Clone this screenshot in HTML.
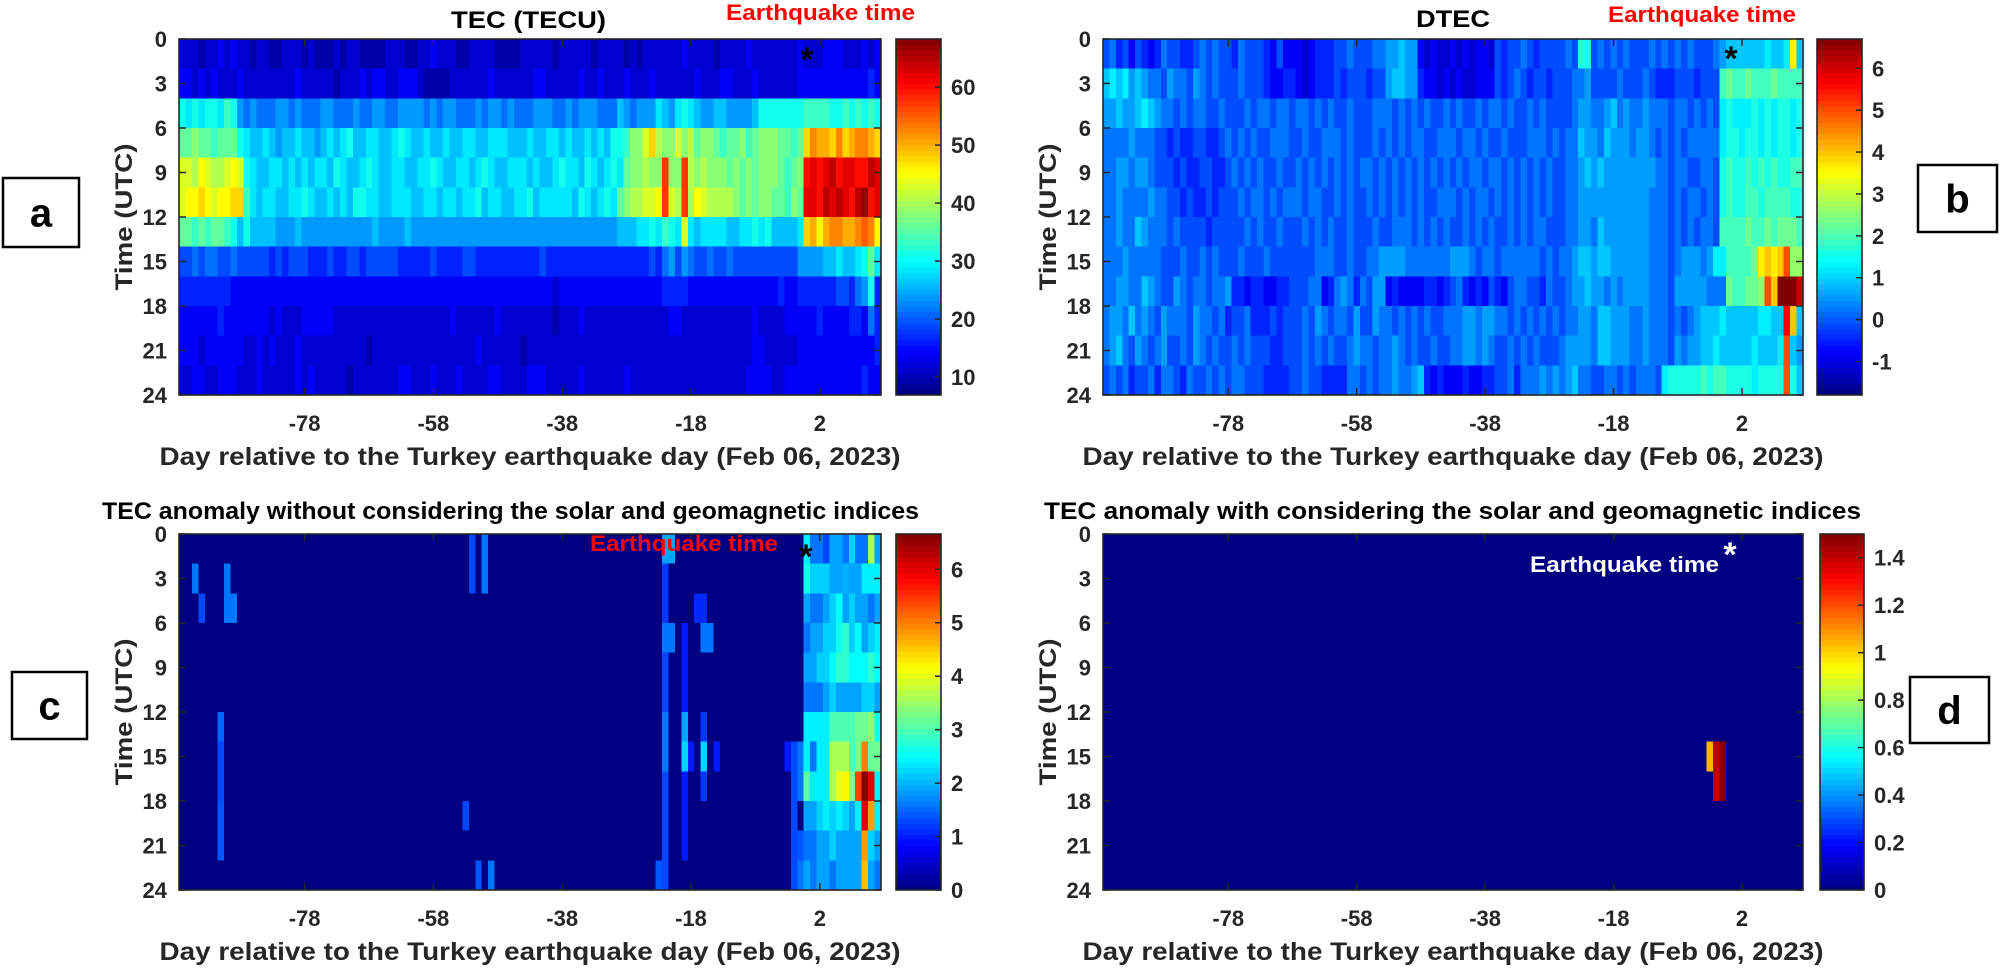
<!DOCTYPE html>
<html><head><meta charset="utf-8"><title>TEC heatmaps</title>
<style>
html,body{margin:0;padding:0;background:#fff;}
svg{display:block;}
text{font-family:"Liberation Sans Narrow","Liberation Sans",sans-serif;font-weight:bold;}
</style></head>
<body>
<svg id="fig" xmlns="http://www.w3.org/2000/svg" width="2001" height="972" viewBox="0 0 2001 972"></svg>
<script>
// ---------- data ----------
const dayFirst = -97;             // first day column
const dayCount = 109;             // days -97 .. 11
const hourBins = [0,2,4,6,8,10,12,14,16,18,20,22];
const xTickDays = [-78,-58,-38,-18,2];
const yTickHours = [0,3,6,9,12,15,18,21,24];
const tecTicks = [10,20,30,40,50,60];
const dtecTicks = [-1,0,1,2,3,4,5,6];
const anomTicks = [0,1,2,3,4,5,6];
const anom2Ticks = [0,0.2,0.4,0.6,0.8,1,1.2,1.4];

// TEC (TECU): letter a..z -> 7 + 2.4*index
const tecRows = [
"cccbccdcdc cbccbbcccb cbbbcbccbb bbcccbbccd cccbbccccb bbbcccccbc ccccbccccb cbccccccdc cccbccccdc ccccccdccc dddcccdcd",
"ddcdcdcccd ccccccccdc ccccbcccdc ddccdddcbb bbccccccdc cccccddccc ccdccdcccd cccdcccccc dcccddcccd ccccccdddd ddddddded",
"kjkjkkjlkh ghggghhghg gghhggghgg hhgghhhhgh ghhggghghh ghggghhhgg hghhhgggih ghhhjihjkj ihhiihhhhi kkkkkkklll lkklklklk",
"mmnmmlmmmk jiijihiiji ihijijkiij jiijkjiiji ijiijjiijj jiiijiijji jiijijikkl nnpronnpno mnnmlmmnlm nnnmmlmrts srtrsttsr",
"ppoqpoopqp kjiijjijij ijjikjiijk jiijjiijjk jiijjijkji ijjjijiijk jjikjijkjm nnonnvnnvo nonnnmnmnm nnnmlmnwxw xywxxwwyx",
"pqqrqpqqrr ljijjiijjk jiijijikkj jiijjjiijj ijjijjkijj iijjkijjjj jikjijkjmn ooppqvpovo qpoooonmnm nnmmlnmxxw yxyxwyzwx",
"mmlmlmmlki kiiiihhhih hhhhhhhhhh ihhhhihhhh hhhhhhhhhh hhhhhhhhhh hhhhhhhhii ijjkjlkjpj ijjjjiijjk jkiiiijrsq sttsstutq",
"ffgfggffgf ffffefefff eeefeeffef ffffeeeeef eeeeffeeee eeeeeefeee eeeeeeeeee eeefeghfhg ffgffgffff ffffffhhhh iijiijkmj",
"eeeeeeeedd dddddddddd dddddddddd dddddddddd dddddddddd ddddddddcd dddddddddd dddddeeeed dddddddddd dddeddeeee eeffeghke",
"ddddddeddd ddddcdcccd ddddcccccc cccccccccc ccdccccccd ccccccccbc ccdccccccc ccccccddcc cccccccccd ccccddddde ddddeedge",
"dddcdddddd ccdcdcccdc cccccccccb cccccccccc ccccccdccc cccbcccccc cccccccccc cccccccccc cccccccccd dcccccdddd dddddddde",
"ccddccdddc ccdcccccdc dcccccbccc ccccddcccd cccdccccdd ccccdddccc ccdccccccd cccccccccc ccccccccdd ddccdddddd ddddddedd"
];
// DTEC: letter a..z -> -1.8 + 0.34*index
const dtecRows = [
"fgefdfedeg ffeefgfgff egfffedfdd dcdeeeffgf ffgghhihhd cdccdcdcdd cfeffgfeff ffgfkkfgfg fgfffgfgfg fgfffghiii iiijiijqi",
"ijijhihggf hggfhgfgff fgfffeddee dcdeeefeff feffhiihhe ddcdcdccdd dfefgfeffe fffgghffff gfffgfeeef ffeffflmll mlllmllll",
"hhihhijihg gfgfggffgf ffgfggfggf ggfgfgffgf ffgggfgfgf gffgfgffgf ggfgffgfgf fffghhgghi ghgghgggfg gfgfgfjkjj jkjkjkkjk",
"gggghgggff efeeffeefg fgfgffgggf fgffgggfgf ffgfgfgfgg ffgggfggfg ffgfffgggf gfggihhgih hhghhgfgfg fgggggjkkj kkjkjkkjk",
"gghhghhgff fefeeffeef gfgfgffgff gfgfgfgfgf ggfgfgfgfg fgfgfgfggf ggfgfgfgfg ffgghihihh hhhhhhggfg gffggfklkk lklklkkll",
"gghgggghgg ffefeefeff fgfggfgfgg gfggffgfgf fgfgfgfgfg ffgggfgfgg fgfgfgfgfg ffgghhhhhh hhhhhgggfg fggfgfklkk llkllllkk",
"gghggihggg fgffffefff ffgfgffgff fgfgfgffgf ffgffgggfg fgfgffgfgf gffgfgfggf ffgghhgihh hhhhhgggfg fgfggfllll mllmlmmml",
"ggghgggggf ffgffgfgff fgfffgffff fffgggffgf fgghhhhggg gggghhhgfg gfggggggfg fgghiihiih hhhhhgggfg hhhghjjlll lmqrqrunn",
"gghhggihgf fhgfggfggh eedeeddeef ffggdeghge gfhhdedddd eedefgeded fedfggffeg ffghhihhgh ghhhhgggfh hhhhgggmll mmnurzzzx",
"ghhgighgfh gggfhggfge ffgeeefeff fgfhgfggfh ffhggfgfgf gffggghhgh hggfgfgfgf gfgghhgiih hhgghgggfg fghiiijiii iijjiiwri",
"ghigfhgfgh ffgfhgfgff gfgfffeeff fgfgfgffgh ggfgghgfgf fgffgghhgh gffgfgfgff fghhhhgiih hhgghgggfh ghhiijiiii ijiiijuih",
"fgfgeffgeg gfegffgfgf ggfffeeeef fgffeeeegg fgfgghgghi ededddedde effgeggghg hghiggffgg fgfgggfjkk kkklkllkkk kjkkkkuki"
];
// TEC anomaly (without indices): sparse pre-event cells [binIndex, day, value]
const anomCells = [
[1,-95,1.6],[2,-94,1.3],[1,-90,1.6],[2,-90,1.6],[2,-89,1.6],
[6,-91,1.5],[7,-91,1.3],[8,-91,1.3],[9,-91,1.4],[10,-91,1.4],
[0,-52,1.3],[1,-52,1.3],[0,-50,1.6],[1,-50,1.6],[9,-53,1.3],[11,-51,1.4],[11,-49,1.6],
[0,-22,1.9],[1,-22,1.2],[2,-22,1.2],[3,-22,1.6],[4,-22,1.3],[5,-22,1.3],[6,-22,1.6],[7,-22,1.6],[8,-22,1.3],[9,-22,1.3],[10,-22,1.3],[11,-22,1.3],[11,-23,1.4],
[0,-21,1.9],[3,-21,1.6],
[3,-19,1.0],[4,-19,1.0],[5,-19,1.0],[6,-19,1.9],[7,-19,2.2],[8,-19,1.0],[9,-19,1.0],[10,-19,1.0],
[7,-18,1.0],[2,-17,1.1],[2,-16,1.1],[3,-16,1.6],[6,-16,1.2],[7,-16,2.2],[8,-16,1.2],[3,-15,1.6],[7,-14,1.0],
[7,-3,1.0],[7,-2,1.3],[8,-2,1.3],[9,-2,1.3],[10,-2,1.3],[11,-2,1.3],[7,-1,1.6],[8,-1,1.6],[10,-1,1.4],[11,-1,1.6]
];
const anomPostStartDay = 0;
const anomPostRows = [
[2.4,1.6,1.6,1.3,1.9,1.9,1.6,2.2,1.6,1.6,3.6,1.9],
[2.6,2.2,2.2,2.2,1.9,1.9,2.0,1.9,1.9,2.4,2.4,2.4],
[1.9,1.6,1.6,1.9,2.2,2.5,1.9,2.2,1.9,1.9,1.6,1.9],
[1.6,1.9,1.9,2.2,2.2,2.6,2.8,2.2,2.5,1.9,2.2,2.4],
[1.9,1.9,2.2,2.2,2.5,2.8,2.8,2.5,2.5,2.5,2.8,2.5],
[1.6,1.6,1.6,1.9,2.2,1.9,1.9,1.9,1.9,2.2,2.2,1.9],
[2.4,2.4,2.4,2.4,3.0,3.0,3.0,3.0,3.2,3.2,3.4,2.6],
[2.4,1.6,2.4,2.4,3.6,3.6,3.6,3.0,3.3,5.0,3.2,3.2],
[3.1,2.4,2.4,2.4,3.6,4.0,4.2,3.3,5.4,6.6,6.0,2.4],
[1.9,1.9,2.2,2.4,2.2,2.4,2.2,1.9,2.4,6.0,4.8,2.4],
[1.6,1.6,1.9,1.9,2.2,1.9,1.9,1.9,1.9,4.8,2.2,1.9],
[1.9,1.6,1.9,1.9,1.6,1.9,1.9,1.9,1.9,4.6,1.9,1.6]
];
// TEC anomaly (with indices)
const anom2Cells = [[7,-3,1.05],[7,-2,1.42],[7,-1,1.5],[8,-2,1.4],[8,-1,1.5]];

// ---------- helpers ----------
const NS = "http://www.w3.org/2000/svg";
const svg = document.getElementById('fig');
function mk(tag, attrs, parent){
  const e = document.createElementNS(NS, tag);
  for (const k in attrs) e.setAttribute(k, attrs[k]);
  (parent||svg).appendChild(e);
  return e;
}
function clamp(v){return Math.max(0,Math.min(1,v));}
function jet(t){
  t = clamp(t);
  const r = clamp(1.5-Math.abs(4*t-3)), g = clamp(1.5-Math.abs(4*t-2)), b = clamp(1.5-Math.abs(4*t-1));
  return 'rgb('+Math.round(r*255)+','+Math.round(g*255)+','+Math.round(b*255)+')';
}
function decodeRows(rows, base, step){
  return rows.map(s=>{
    const str = s.replace(/\s+/g,'');
    const out=[];
    for(let j=0;j<dayCount;j++){
      const ch = str[Math.min(j,str.length-1)];
      out.push(base + step*(ch.charCodeAt(0)-97));
    }
    return out;
  });
}
function emptyGrid(){return hourBins.map(()=>new Array(dayCount).fill(0));}

const tecGrid = decodeRows(tecRows, 7, 2.4);
const dtecGrid = decodeRows(dtecRows, -1.8, 0.34);
const anomGrid = emptyGrid();
anomCells.forEach(c=>{anomGrid[c[0]][c[1]-dayFirst]=c[2];});
anomPostRows.forEach((row,i)=>row.forEach((v,k)=>{anomGrid[i][anomPostStartDay+k-dayFirst]=v;}));
const anom2Grid = emptyGrid();
anom2Cells.forEach(c=>{anom2Grid[c[0]][c[1]-dayFirst]=c[2];});

const INK = '#262626';

function drawPanel(p){
  const g = mk('g',{});
  
  
  const xS = d => p.left + (d - (dayFirst-0.5)) * p.w / dayCount;
  const yS = h => p.top + h * p.h / 24;
  const cS = v => (v - p.vmin)/(p.vmax - p.vmin);
  const cg = mk('g',{'shape-rendering':'crispEdges'}, g);
  
  
  p.grid.forEach((row,i)=>{
    row.forEach((v,j)=>{
      const d = dayFirst + j;
      const x0 = xS(d-0.5), x1 = xS(d+0.5);
      const y0 = yS(hourBins[i]), y1 = yS(hourBins[i]+2);
      const r = mk('rect',{x:x0.toFixed(2),y:y0.toFixed(2),width:(x1-x0+0.6).toFixed(2),height:(y1-y0+0.6).toFixed(2),fill:jet(cS(v))}, cg);
      
      
    });
  });
  const fr = mk('rect',{x:p.left,y:p.top,width:p.w,height:p.h,fill:'none',stroke:INK,'stroke-width':1.6}, g);
  
  
  xTickDays.forEach(d=>{
    const x = xS(d);
    const t1 = mk('line',{x1:x,y1:p.top+p.h,x2:x,y2:p.top+p.h-7,stroke:INK,'stroke-width':1.5}, g);
    
    
    const t2 = mk('line',{x1:x,y1:p.top,x2:x,y2:p.top+7,stroke:INK,'stroke-width':1.5}, g);
    
    
    const tl = mk('text',{x:x,y:p.top+p.h+36,'text-anchor':'middle','font-size':22,fill:INK}, g);
    tl.textContent = String(d);
    
    
  });
  yTickHours.forEach(h=>{
    const y = yS(h);
    const t1 = mk('line',{x1:p.left,y1:y,x2:p.left+7,y2:y,stroke:INK,'stroke-width':1.5}, g);
    
    
    const t2 = mk('line',{x1:p.left+p.w,y1:y,x2:p.left+p.w-7,y2:y,stroke:INK,'stroke-width':1.5}, g);
    
    
    const tl = mk('text',{x:p.left-12,y:y+8,'text-anchor':'end','font-size':22,fill:INK}, g);
    tl.textContent = String(h);
    
    
  });
  const yl = mk('text',{x:0,y:0,'text-anchor':'middle','font-size':24,fill:INK,'font-family':'Liberation Sans, sans-serif',
    transform:'translate('+(p.left-55)+','+(p.top+p.h/2)+') rotate(-90)',textLength:147,lengthAdjust:'spacingAndGlyphs'}, g);
  yl.setAttribute('dy','8');
  yl.textContent = 'Time (UTC)';
  
  
  const xl = mk('text',{x:p.left+p.w/2,y:p.top+p.h+70,'text-anchor':'middle','font-size':25,fill:INK,textLength:741,lengthAdjust:'spacingAndGlyphs'}, g);
  xl.textContent = 'Day relative to the Turkey earthquake day (Feb 06, 2023)';
  
  
  const tt = mk('text',{x:p.titleX,y:p.titleY,'font-size':24,fill:'#000',textLength:p.titleW,lengthAdjust:'spacingAndGlyphs'}, g);
  tt.textContent = p.title;
  
  
  const eq = mk('text',{x:p.eqX,y:p.eqY,'font-size':22,fill:p.eqColor,textLength:p.eqW,lengthAdjust:'spacingAndGlyphs'}, g);
  eq.textContent = 'Earthquake time';
  
  
  const st = mk('text',{x:p.starX,y:p.starY+18,'text-anchor':'middle','font-size':34,fill:p.starColor,'font-family':'Liberation Sans, sans-serif'}, g);
  st.textContent = '*';
  
  
  const cb = mk('g',{'shape-rendering':'crispEdges'}, g);
  
  
  const n = 64, cw = p.cbR - p.cbL;
  for(let k=0;k<n;k++){
    const y0 = p.top + p.h - (k+1)*p.h/n;
    const r = mk('rect',{x:p.cbL,y:y0.toFixed(2),width:cw,height:(p.h/n+0.6).toFixed(2),fill:jet((k+0.5)/n)}, cb);
    
    
  }
  const cbf = mk('rect',{x:p.cbL,y:p.top,width:cw,height:p.h,fill:'none',stroke:INK,'stroke-width':1.6}, g);
  
  
  p.ticks.forEach(v=>{
    const y = p.top + p.h - cS(v)*p.h;
    const tk = mk('line',{x1:p.cbR,y1:y,x2:p.cbR-6,y2:y,stroke:INK,'stroke-width':1.5}, g);
    
    
    const tl = mk('text',{x:p.cbR+10,y:y+8,'font-size':22,fill:INK}, g);
    tl.textContent = String(v);
    
    
  });
  const bx = mk('rect',{x:p.box[0],y:p.box[1],width:p.box[2],height:p.box[3],fill:'#fff',stroke:'#000','stroke-width':2.5}, g);
  
  
  const bl = mk('text',{x:p.box[0]+p.box[2]/2,y:p.box[1]+p.box[3]/2+14,'text-anchor':'middle','font-size':40,fill:'#000','font-family':'Liberation Sans, sans-serif'}, g);
  bl.textContent = p.letter;
  
  
}

drawPanel({name:'tec',grid:tecGrid,left:179,top:39,w:702,h:356,vmin:6.9,vmax:68.3,cbL:896,cbR:941,ticks:tecTicks,
  title:'TEC (TECU)',titleX:451,titleY:28,titleW:155,eqX:726,eqY:20,eqW:189,eqColor:'#ff0000',
  starX:807,starY:53,starColor:'#000',box:[3,178,76,69],letter:'a'});
drawPanel({name:'dtec',grid:dtecGrid,left:1103,top:39,w:700,h:356,vmin:-1.8,vmax:6.7,cbL:1817,cbR:1862,ticks:dtecTicks,
  title:'DTEC',titleX:1416,titleY:27,titleW:74,eqX:1608,eqY:22,eqW:188,eqColor:'#ff0000',
  starX:1731,starY:52,starColor:'#000',box:[1918,165,79,67],letter:'b'});
drawPanel({name:'anomaly-without-indices',grid:anomGrid,left:179,top:534,w:702,h:356,vmin:0,vmax:6.66,cbL:896,cbR:941,ticks:anomTicks,
  title:'TEC anomaly without considering the solar and geomagnetic indices',titleX:102,titleY:519,titleW:817,eqX:590,eqY:551,eqW:188,eqColor:'#ff0000',
  starX:806,starY:550,starColor:'#000',box:[12,672,75,67],letter:'c'});
drawPanel({name:'anomaly-with-indices',grid:anom2Grid,left:1103,top:534,w:700,h:356,vmin:0,vmax:1.5,cbL:1820,cbR:1864,ticks:anom2Ticks,
  title:'TEC anomaly with considering the solar and geomagnetic indices',titleX:1044,titleY:519,titleW:817,eqX:1530,eqY:572,eqW:189,eqColor:'#ffffff',
  starX:1730,starY:548,starColor:'#ffffff',box:[1910,677,79,66],letter:'d'});
</script>
</body></html>
